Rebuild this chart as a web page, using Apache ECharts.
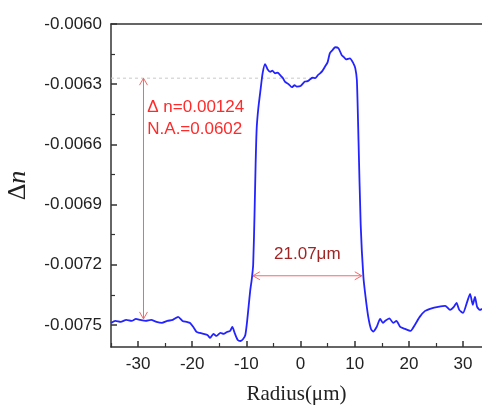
<!DOCTYPE html>
<html>
<head>
<meta charset="utf-8">
<script src="https://cdn.jsdelivr.net/npm/echarts@6/dist/echarts.min.js"></script>
<style>
  html, body { margin: 0; padding: 0; background: #fff; }
  #chart { width: 482px; height: 405px; }
</style>
</head>
<body>
<div id="chart"></div>
<script>
// Refractive index difference profile across the waveguide
const radius = [
  -35, -34.2, -33.2, -32.2, -31.2, -30.4, -29.6, -28.6, -27.6, -26.6,
  -25.6, -24.6, -23.6, -22.6, -21.8, -21.0, -20.4, -19.8, -19.2, -18.6,
  -17.9, -17.2, -16.7, -16.1, -15.5, -14.8, -14.2, -13.6, -13.0, -12.6,
  -12.1, -11.6, -11.1, -10.6, -10.2, -9.9, -9.6, -9.3, -9.0, -8.75,
  -8.5, -8.3, -8.1, -7.8, -7.4, -7.0, -6.55, -6.1, -5.6, -5.2,
  -4.7, -4.2, -3.8, -3.3, -2.9, -2.2, -1.6, -1.1, -0.7, 0,
  0.8, 1.3, 1.75, 2.2, 2.7, 3.2, 3.6, 4.0, 4.5, 5.0,
  5.4, 5.9, 6.4, 7.0, 7.6, 8.0, 8.4, 9.1, 9.75, 10.1,
  10.4, 10.7, 11.1, 11.6, 12.0, 12.5, 13.0, 13.4, 14.05, 14.7,
  15.2, 15.6, 16.4, 17.1, 17.7, 18.4, 19.3, 20.3, 21.1, 22.0,
  23.0, 24.2, 25.4, 26.7, 27.6, 28.3, 28.8, 29.3, 30.0, 30.7,
  31.3, 31.8, 32.2, 32.6, 33.1, 33.5
];
const deltaN = [
  -0.00749, -0.00748, -0.007485, -0.007475, -0.00748, -0.00747, -0.007475, -0.00748, -0.007475, -0.007485,
  -0.00749, -0.00748, -0.007475, -0.00746, -0.00748, -0.007485, -0.00749, -0.00751, -0.007535, -0.00754,
  -0.007545, -0.00755, -0.007565, -0.007545, -0.007555, -0.00754, -0.007545, -0.007535, -0.00753, -0.00751,
  -0.007545, -0.007575, -0.00758, -0.00757, -0.00755, -0.00749, -0.00741, -0.00733, -0.00727, -0.0072,
  -0.00695, -0.0067, -0.00652, -0.00642, -0.00633, -0.006245, -0.0062, -0.006225, -0.006238, -0.006232,
  -0.006246, -0.006242, -0.006254, -0.006268, -0.006287, -0.0063, -0.006315, -0.006305, -0.006312, -0.006309,
  -0.006287, -0.006285, -0.006276, -0.006268, -0.00627, -0.006255, -0.006246, -0.006235, -0.006213, -0.00619,
  -0.006146, -0.00613, -0.006116, -0.006121, -0.006155, -0.006165, -0.006176, -0.006171, -0.006196, -0.00622,
  -0.00628, -0.00658, -0.007, -0.00726, -0.00736, -0.00746, -0.00752, -0.007533, -0.00751, -0.00747,
  -0.00749, -0.00748, -0.007467, -0.00749, -0.00748, -0.00751, -0.00752, -0.00753, -0.0075, -0.00746,
  -0.00743, -0.007417, -0.00741, -0.007405, -0.007425, -0.00741, -0.00739, -0.007425, -0.00744, -0.00739,
  -0.007345, -0.0074, -0.00736, -0.00741, -0.007425, -0.00742
];

// Axis ticks and labels
const xMajorTicks = [-30, -20, -10, 0, 10, 20, 30];
const xMinorTicks = [-35, -25, -15, -5, 5, 15, 25];
const yMajorTicks = [-0.0075, -0.0072, -0.0069, -0.0066, -0.0063, -0.0060];
const yMinorTicks = [-0.00765, -0.00735, -0.00705, -0.00675, -0.00645, -0.00615];

// Annotation values
const indexStep = { x: -29, top: -0.00627, bottom: -0.00747 };
const indexRefLine = { y: -0.00627, from: -35, to: 2 };
const coreWidth = { y: -0.007255, from: -8.8, to: 11.3, text: '21.07\u03bcm' };
const noteLines = ['\u0394 n=0.00124', 'N.A.=0.0602'];

const sans = '"Liberation Sans", Arial, Helvetica, sans-serif';
const serif = '"Liberation Serif", "Times New Roman", serif';
const axisColor = '#333';

const chart = echarts.init(document.getElementById('chart'), null, { renderer: 'canvas' });

function chevron(x, y, dir, horizontal, style) {
  // open arrow head pointing in direction dir (+1 / -1)
  const s = 7, w = 4;
  const pts = horizontal
    ? [[x - dir * s, y - w], [x, y], [x - dir * s, y + w]]
    : [[x - w, y - dir * s], [x, y], [x + w, y - dir * s]];
  return { type: 'polyline', shape: { points: pts }, style: style };
}

const option = {
  animation: false,
  backgroundColor: '#fff',
  grid: { left: 111, top: 24, right: 0, bottom: 58, containLabel: false, outerBoundsMode: 'none' },
  xAxis: [
    {
      type: 'value', min: -35, max: 33.5, position: 'bottom',
      axisLine: { show: true, onZero: false, lineStyle: { color: axisColor, width: 1.5 } },
      axisTick: { show: true, inside: true, length: 6, customValues: xMajorTicks, lineStyle: { color: axisColor, width: 1.5 } },
      axisLabel: { show: true, customValues: xMajorTicks, margin: 9, fontFamily: sans, fontSize: 17, color: '#222' },
      splitLine: { show: false },
      name: 'Radius(\u03bcm)', nameLocation: 'middle', nameGap: 37,
      nameTextStyle: { fontFamily: serif, fontSize: 21, color: '#222' }
    },
    {
      type: 'value', min: -35, max: 33.5, position: 'bottom',
      axisLine: { show: false, onZero: false },
      axisTick: { show: true, inside: true, length: 4, customValues: xMinorTicks, lineStyle: { color: axisColor, width: 1.2 } },
      axisLabel: { show: false }, splitLine: { show: false }
    },
    {
      type: 'value', min: -35, max: 33.5, position: 'top',
      axisLine: { show: true, onZero: false, lineStyle: { color: axisColor, width: 1.5 } },
      axisTick: { show: false }, axisLabel: { show: false }, splitLine: { show: false }
    }
  ],
  yAxis: [
    {
      type: 'value', min: -0.00761, max: -0.0060, position: 'left',
      axisLine: { show: true, onZero: false, lineStyle: { color: axisColor, width: 1.5 } },
      axisTick: { show: true, inside: true, length: 6, customValues: yMajorTicks, lineStyle: { color: axisColor, width: 1.5 } },
      axisLabel: {
        show: true, customValues: yMajorTicks, margin: 9, fontFamily: sans, fontSize: 17, color: '#222',
        formatter: v => v.toFixed(4)
      },
      splitLine: { show: false },
      name: '{d|\u0394}{n|n}', nameLocation: 'middle', nameGap: 80, nameRotate: 90,
      nameTextStyle: {
        rich: {
          d: { fontFamily: serif, fontSize: 26, color: '#222' },
          n: { fontFamily: serif, fontSize: 26, fontStyle: 'italic', color: '#222' }
        }
      }
    },
    {
      type: 'value', min: -0.00761, max: -0.0060, position: 'left',
      axisLine: { show: false, onZero: false },
      axisTick: { show: true, inside: true, length: 4, customValues: yMinorTicks, lineStyle: { color: axisColor, width: 1.2 } },
      axisLabel: { show: false }, splitLine: { show: false }
    }
  ],
  series: [
    {
      // dashed reference level at the top of the index step
      type: 'line', xAxisIndex: 0, yAxisIndex: 0, silent: true,
      data: [[indexRefLine.from, indexRefLine.y], [indexRefLine.to, indexRefLine.y]],
      symbol: 'none',
      lineStyle: { color: '#c8c8c8', width: 1, type: [3, 3] },
      z: 1
    },
    {
      type: 'line', xAxisIndex: 0, yAxisIndex: 0,
      data: radius.map((r, i) => [r, deltaN[i]]),
      symbol: 'none', smooth: 0.2,
      lineStyle: { color: '#2323ff', width: 1.8 },
      z: 3
    },
    {
      // double arrows and their notes
      type: 'custom', xAxisIndex: 0, yAxisIndex: 0, silent: true, z: 4,
      data: [0],
      renderItem: function (params, api) {
        const arrowStyle = { stroke: '#f26a6a', lineWidth: 1, fill: null };
        const vTop = api.coord([indexStep.x, indexStep.top]);
        const vBot = api.coord([indexStep.x, indexStep.bottom]);
        const hL = api.coord([coreWidth.from, coreWidth.y]);
        const hR = api.coord([coreWidth.to, coreWidth.y]);
        const note1 = api.coord([-28.3, -0.006414]);
        const note2 = api.coord([-28.3, -0.006523]);
        const widthLabel = api.coord([(coreWidth.from + coreWidth.to) / 2, -0.00715]);
        return {
          type: 'group',
          children: [
            { type: 'line', shape: { x1: vTop[0], y1: vTop[1], x2: vBot[0], y2: vBot[1] }, style: arrowStyle },
            chevron(vTop[0], vTop[1], -1, false, arrowStyle),
            chevron(vBot[0], vBot[1], 1, false, arrowStyle),
            { type: 'line', shape: { x1: hL[0], y1: hL[1], x2: hR[0], y2: hR[1] }, style: arrowStyle },
            chevron(hL[0], hL[1], -1, true, arrowStyle),
            chevron(hR[0], hR[1], 1, true, arrowStyle),
            { type: 'text', x: note1[0], y: note1[1],
              style: { text: noteLines[0], fill: '#ff2a2a', font: '17px ' + sans, textAlign: 'left', textVerticalAlign: 'middle' } },
            { type: 'text', x: note2[0], y: note2[1],
              style: { text: noteLines[1], fill: '#ff2a2a', font: '17px ' + sans, textAlign: 'left', textVerticalAlign: 'middle' } },
            { type: 'text', x: widthLabel[0], y: widthLabel[1],
              style: { text: coreWidth.text, fill: '#a02424', font: '17px ' + sans, textAlign: 'center', textVerticalAlign: 'middle' } }
          ]
        };
      }
    }
  ]
};

chart.setOption(option);
</script>
</body>
</html>
